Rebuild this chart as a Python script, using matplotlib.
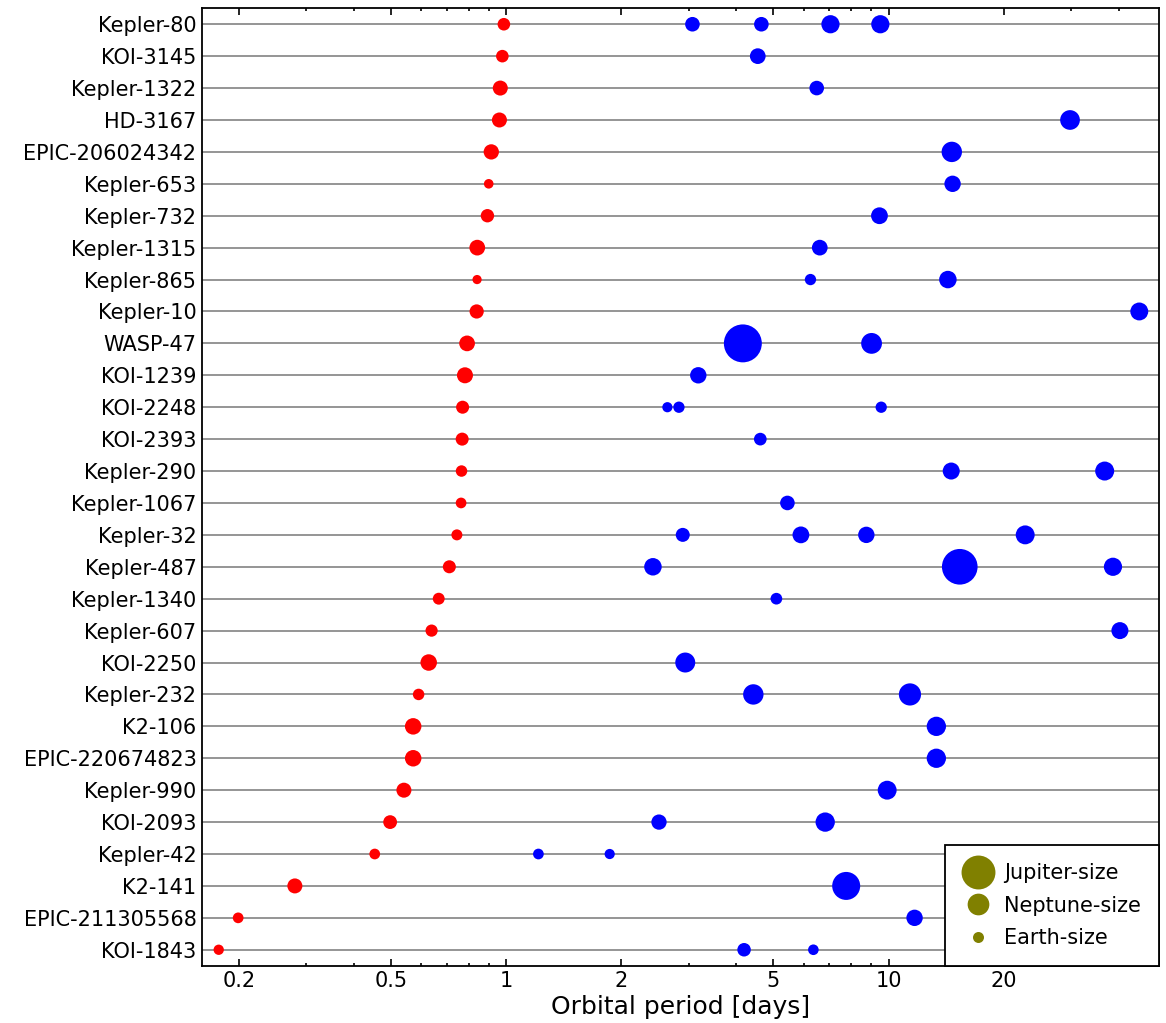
import numpy as np
import matplotlib
matplotlib.use("Agg")
import matplotlib.pyplot as plt
from matplotlib.ticker import FixedLocator, NullFormatter

# systems, top to bottom
systems = ["Kepler-80", "KOI-3145", "Kepler-1322", "HD-3167", "EPIC-206024342",
           "Kepler-653", "Kepler-732", "Kepler-1315", "Kepler-865", "Kepler-10",
           "WASP-47", "KOI-1239", "KOI-2248", "KOI-2393", "Kepler-290",
           "Kepler-1067", "Kepler-32", "Kepler-487", "Kepler-1340", "Kepler-607",
           "KOI-2250", "Kepler-232", "K2-106", "EPIC-220674823", "Kepler-990",
           "KOI-2093", "Kepler-42", "K2-141", "EPIC-211305568", "KOI-1843"]

# ultra-short-period planet: period [d], radius [Earth radii]
usp_period = [0.986, 0.977, 0.965, 0.960, 0.914, 0.900, 0.893, 0.840, 0.839, 0.837,
              0.790, 0.780, 0.769, 0.767, 0.764, 0.762, 0.743, 0.710, 0.666, 0.638,
              0.627, 0.590, 0.571, 0.571, 0.540, 0.497, 0.453, 0.280, 0.199, 0.177]
usp_radius = [1.31, 1.31, 1.86, 1.86, 1.93, 0.76, 1.48, 2.04, 0.70, 1.67,
              2.04, 2.12, 1.40, 1.40, 1.09, 0.95, 1.00, 1.40, 1.17, 1.23,
              2.25, 1.09, 2.25, 2.25, 1.86, 1.57, 0.95, 1.86, 0.95, 0.88]

# other planets in the same systems
comp_period = [[3.07, 4.65, 7.05, 9.52], [4.55], [6.49], [29.84], [14.64],
               [14.71], [9.47], [6.61], [6.25, 14.3], [45.29],
               [4.159, 9.03], [3.18], [2.64, 2.83, 9.57], [4.62], [14.59, 36.77],
               [5.44], [2.896, 5.90, 8.75, 22.78], [2.42, 15.36, 38.65], [5.09], [40.3],
               [2.94], [4.43, 11.38], [13.34], [13.34], [9.92],
               [2.51, 6.83], [1.214, 1.865], [7.75], [11.7], [4.19, 6.36]]
comp_radius = [[1.76, 1.76, 2.74, 2.74], [2.04], [1.76], [3.21], [3.44],
               [2.22], [2.33], [2.04], [1.06, 2.53], [2.65],
               [11.9, 3.58], [2.22], [0.86, 1.06, 1.06], [1.33], [2.39, 2.98],
               [1.76], [1.62, 2.33, 2.22, 2.96], [2.53, 10.5, 2.74], [1.13], [2.39],
               [3.3], [3.44, 4.07], [3.08], [3.08], [2.95],
               [1.93, 3.08], [0.95, 0.86], [6.48], [2.22], [1.51, 0.93]]

legend_labels = ["Jupiter-size", "Neptune-size", "Earth-size"]
legend_radius = [9.5, 3.9, 1.0]

major_ticks = [0.2, 0.5, 1, 2, 5, 10, 20]
minor_ticks = [0.3, 0.4, 0.6, 0.7, 0.8, 0.9, 3, 4, 6, 7, 8, 9, 30, 40]


def msize(r):
    # marker area proportional to planet radius
    return 62.7 * np.asarray(r)


plt.rcParams['font.family'] = 'DejaVu Sans'
fig = plt.figure(figsize=(11.66, 10.23), dpi=100)
ax = fig.add_axes([0.1732, 0.056, 0.8208, 0.9359])

ypos = np.arange(len(systems))
for y in ypos:
    ax.axhline(y, color='0.55', lw=1.3, zorder=1)

ax.scatter(usp_period, ypos, s=msize(usp_radius), c='#ff0000', linewidths=0, zorder=3)

cx, cy, cr = [], [], []
for i, (ps, rs) in enumerate(zip(comp_period, comp_radius)):
    cx += ps
    cy += [i] * len(ps)
    cr += rs
ax.scatter(cx, cy, s=msize(cr), c='#0000ff', linewidths=0, zorder=3)

handles = [ax.scatter([], [], s=msize(r), c='#808000', linewidths=0) for r in legend_radius]
leg = ax.legend(handles, legend_labels, loc='lower right', borderaxespad=0,
                fancybox=False, framealpha=1, edgecolor='black', fontsize=15,
                scatterpoints=1, scatteryoffsets=[0.5], borderpad=0.85,
                labelspacing=0.6, handlelength=1.5, handletextpad=0.5)
leg.get_frame().set_linewidth(1.3)

ax.set_xscale('log')
ax.set_xlim(0.16, 51)
ax.set_ylim(len(systems) - 0.5, -0.5)

ax.xaxis.set_major_locator(FixedLocator(major_ticks))
ax.xaxis.set_minor_locator(FixedLocator(minor_ticks))
ax.xaxis.set_minor_formatter(NullFormatter())
ax.set_xticklabels([str(t) for t in major_ticks])
ax.set_yticks(ypos)
ax.set_yticklabels(systems)

ax.tick_params(axis='x', which='both', direction='in', top=True, labelsize=15, width=1.2)
ax.tick_params(axis='x', which='major', length=5)
ax.tick_params(axis='x', which='minor', length=2.5)
ax.tick_params(axis='y', which='both', length=0, pad=4, labelsize=15)

for sp in ax.spines.values():
    sp.set_linewidth(1.3)

ax.set_xlabel("Orbital period [days]", fontsize=18, labelpad=3)

fig.savefig("out.png", dpi=100)
